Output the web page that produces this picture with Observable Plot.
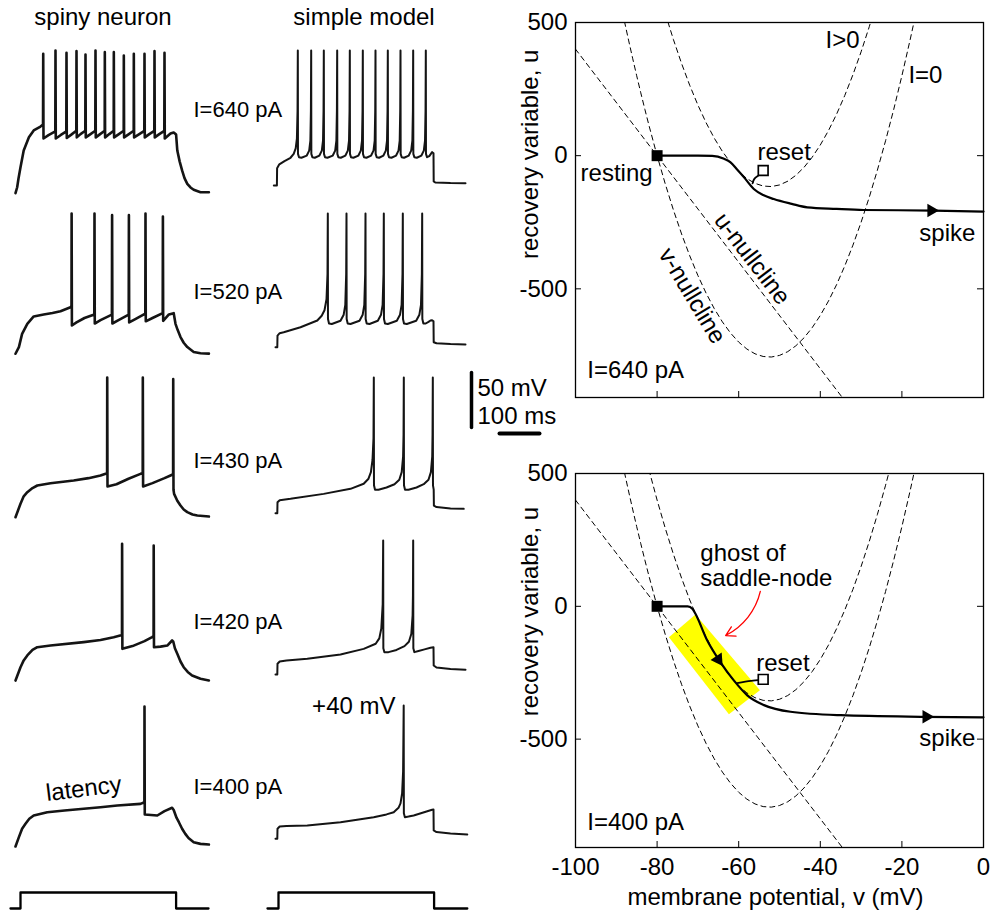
<!DOCTYPE html>
<html><head><meta charset="utf-8">
<script src="https://cdn.jsdelivr.net/npm/d3@7"></script>
<script src="https://cdn.jsdelivr.net/npm/@observablehq/plot@0.6"></script>
<style>
body{margin:0;background:#fff;}
#fig{position:relative;width:992px;height:911px;font-family:"Liberation Sans",Arial,Helvetica,sans-serif;overflow:hidden;background:#fff;}
.ttl{position:absolute;font-size:24px;line-height:26px;color:#000;white-space:nowrap;transform:translateX(-50%);}
</style></head><body>
<div id="fig">
<div class="ttl" style="left:103px;top:4px">spiny neuron</div>
<div class="ttl" style="left:364px;top:4px">simple model</div>
</div>
<script>
// ---------------- DATA ----------------
// Spiny neuron recordings: [time ms, membrane potential mV]
const spiny640 = [[-12.5,-89.7],[-8.3,-84.3],[-5,-76.4],[0,-66.1],[8,-50.9],[21,-38.8],[33,-32.7],[50,-29.1],[56.3,-27.3],[56.8,37],[57.5,-40],
[70,-37],[87,-33.6],[87.5,40],[88.2,-40],[100,-37],[114.5,-33.6],[115,37.9],[115.7,-39.5],
[127,-36.5],[139.5,-33],[140,39.4],[140.7,-39],[150,-36],[162,-33],[162.5,36.4],[163.2,-39],
[175,-36],[187,-33],[187.5,40],[188.2,-39],[199,-36],[210.5,-33],[210.8,38.5],[211.5,-39],
[222,-36],[233,-33],[233.3,38.5],[234,-39],[246,-36],[258,-33],[258.3,35.5],[259,-39],
[271,-36],[283,-33],[283.3,37],[284,-39],[297,-36],[309.5,-33],[310,37],[310.7,-39],
[322,-36],[334.5,-33],[335,39.4],[335.7,-39],[347,-36],[359.5,-33],[360,37.9],[360.7,-40],
[375,-35.5],[383,-34.5],[389,-36.4],[392,-50.9],[398,-61],[404,-69],[410,-76],[417,-81.2],[425,-84.5],[433,-86.6],[450,-88.8],[471,-88.8]];
const spiny520 = [[-12.5,-87.5],[-4,-81.5],[4,-69.4],[17,-60.3],[33,-53.6],[58,-51.8],[80,-50.5],[100,-48.8],[125,-45.2],[127.5,-44],[127.8,40],[128.5,-61.8],
[140,-59],[160,-55],[184.5,-51.8],[185,40],[185.7,-60],[200,-57],[228.5,-52],[229,38.5],[229.7,-60],
[245,-57],[270.5,-52],[271,38.5],[271.7,-59],[287,-56],[312,-51],[312.5,40],[313.2,-58],
[330,-55],[355.5,-50.5],[356,37.3],[356.7,-57.6],[371,-51.8],[383,-50.6],[387.5,-60.3],[393,-66],[400,-72.3],[408,-77.5],[417,-81.4],[433,-85.9],[450,-87],[471,-87.4]];
const spiny430 = [[-12.5,-87],[0,-74.8],[8,-68],[17,-64.3],[30,-60.5],[42,-58.2],[75,-56.1],[133,-53.6],[170,-51.5],[200,-49.1],[216.5,-47],[216.8,40],[217.5,-59.1],
[240,-57],[270,-52],[300,-47.6],[305.5,-47],[305.8,40],[306.5,-59],[330,-56],[360,-51.5],[375,-49.1],[381.5,-48],[381.8,38.5],[382.5,-62],
[384,-65.8],[392,-72],[400,-76.4],[408,-80],[417,-82.4],[430,-84.5],[442,-85.5],[471,-86.4]];
const spiny420 = [[-12.5,-87.3],[0,-75.2],[8,-69],[17,-64.5],[30,-59.5],[42,-57],[75,-55.5],[158,-52.4],[200,-50.5],[233,-47.9],[253.7,-46],[254,37],[254.7,-58.5],
[280,-56],[310,-51.5],[329,-47.9],[332.7,-47],[333,35.5],[333.7,-57],[350,-56.5],[367,-55.5],[379,-50.9],[382,-52],[386,-58],[392,-63],[400,-70],[408,-75.2],[418,-79.5],[429,-82.7],[450,-85.7],[471,-87.3]];
const spiny400 = [[-12.5,-88.2],[-4,-79.7],[4,-72],[12.5,-67.5],[22,-63],[33,-60],[67,-57],[110,-55.5],[158,-53.9],[200,-52.5],[242,-50.9],[300,-49.4],[309.7,-48],[310,39],[310.7,-59.1],
[342,-60],[360,-56],[379,-53],[383,-55],[390,-62],[396,-66.1],[404,-72],[412,-76.7],[420,-80.5],[433,-84.3],[450,-85.8],[471,-86.4]];

// Simple model traces: [time ms, v mV]
const model640 = [[-11.7,-82.7],[-4,-82.7],[-3.5,-67],[2,-63.5],[15,-60.5],[30,-57.5],[38,-54],[43,-49],[46,-40],[47.6,-15],[48.3,40],
[48.7,-54],[51.3,-57],[57.3,-57.5],[70.7,-55.5],[76.7,-51],[79.7,-42],[81,-15],[81.7,40],
[82.1,-54],[84.7,-57],[90.7,-57.5],[102.3,-55.5],[108.3,-51],[111.3,-42],[112.6,-15],[113.3,40],
[113.7,-54],[116.3,-57],[122.3,-57.5],[135.7,-55.5],[141.7,-51],[144.7,-42],[146,-15],[146.7,40],
[147.1,-54],[149.7,-57],[155.7,-57.5],[167.3,-55.5],[173.3,-51],[176.3,-42],[177.6,-15],[178.3,40],
[178.7,-54],[181.3,-57],[187.3,-57.5],[199.8,-55.5],[205.8,-51],[208.8,-42],[210.1,-15],[210.8,40],
[211.2,-54],[213.8,-57],[219.8,-57.5],[231.5,-55.5],[237.5,-51],[240.5,-42],[241.8,-15],[242.5,40],
[242.9,-54],[245.5,-57],[251.5,-57.5],[262.3,-55.5],[268.3,-51],[271.3,-42],[272.6,-15],[273.3,40],
[273.7,-54],[276.3,-57],[282.3,-57.5],[294,-55.5],[300,-51],[303,-42],[304.3,-15],[305,40],
[305.4,-54],[308,-57],[314,-57.5],[325.7,-55.5],[331.7,-51],[334.7,-42],[336,-15],[336.7,40],
[337.1,-54],[339.7,-57],[345.7,-57.5],[357.3,-55.5],[363.3,-51],[366.3,-42],[367.6,-15],[368.3,40],
[368.7,-54],[371.3,-57],[377,-56],[384,-52.4],[387.5,-53.5],[388,-79],[392,-80],[430,-80.5],[467.5,-80.6]];
const model520 = [[-7.5,-81.5],[-3,-81.5],[-2.5,-71],[3,-68.8],[13,-68],[55,-63.4],[97,-57.3],[108,-53],[115,-48],[120,-38],[122.5,-15],[123.3,40],
[123.7,-56],[126.3,-60],[133.3,-60.5],[155,-57.5],[163,-52],[167,-43],[169.2,-15],[170,40],
[170.4,-56],[173,-60],[180,-60.5],[202.5,-57.5],[210.5,-52],[214.5,-43],[216.7,-15],[217.5,40],
[217.9,-56],[220.5,-60],[227.5,-60.5],[248.3,-57.5],[256.3,-52],[260.3,-43],[262.5,-15],[263.3,40],
[263.7,-56],[266.3,-60],[273.3,-60.5],[295.8,-57.5],[303.8,-52],[307.8,-43],[310,-15],[310.8,40],
[311.2,-56],[313.8,-60],[320.8,-60.5],[344.2,-57.5],[352.2,-52],[356.2,-43],[358.4,-15],[359.2,40],
[359.6,-56],[362.2,-60],[368,-60],[375,-58.5],[380,-57.3],[384,-57],[387.5,-58],[388,-77],[395,-78],[430,-78.7],[467.5,-79]];
const model430 = [[-7.5,-83.4],[-3,-83.4],[-2.5,-73.4],[3,-71.5],[30,-70.3],[113,-65.8],[180,-61.2],[213,-56.6],[225,-52],[231,-46],[235,-35],[237.5,-15],[238.3,40],
[238.7,-58],[241.3,-62],[250,-62],[270,-60],[290,-57],[302,-53],[308,-46],[311.5,-32],[312.6,-12],[313.3,40],
[313.7,-58],[316.3,-62],[325,-62],[345,-60],[363,-57],[375,-53],[381,-46],[384.3,-32],[385.1,-12],[385.8,40],
[386.2,-58],[388,-62],[388.5,-76.5],[395,-77.8],[430,-79],[463,-79.4]];
const model420 = [[-7.5,-81.8],[-3,-81.8],[-2.5,-72.1],[3,-70],[20,-69],[72,-67.5],[155,-63.6],[213,-58.5],[243,-53.9],[252,-49],[257,-40],[260.5,-18],[261.7,40],
[262.1,-58],[264.7,-61.5],[275,-61.5],[295,-59.5],[315,-56],[326,-52],[332,-45],[335.3,-28],[336.1,-10],[336.7,40],
[337.1,-58],[339.7,-61.5],[350,-60.5],[365,-59],[380,-57.5],[387.5,-57],[388,-73.6],[395,-75.5],[430,-76.8],[467.5,-77.5]];
const model400 = [[-7.5,-81.2],[-3,-81.2],[-2.5,-72.1],[3,-70],[20,-69.5],[72,-69.1],[155,-66.1],[238,-61.5],[270,-59],[288,-57],[300,-53],[305,-49],[309,-40],[311.5,-20],[313,40],
[313.4,-58],[316,-61.5],[325,-61],[338,-60],[360,-57.5],[384,-54.8],[387.5,-54.5],[388,-73.6],[395,-75],[430,-76.4],[472,-77.3]];

const spinyTraces = [spiny640, spiny520, spiny430, spiny420, spiny400];
const modelTraces = [model640, model520, model430, model420, model400];
const currentLabels = ["I=640 pA", "I=520 pA", "I=430 pA", "I=420 pA", "I=400 pA"];
const currentLabelV = [-14.5, -31.5, -35.5, -34.3, -34.3];

// Step current pulse
const stimSpinyT = [-25, 0, 0, 389, 389, 470];
const stimModelT = [-27.5, 0, 0, 389, 389, 472];
const stimLevel = [0, 0, 1, 1, 0, 0];

// Phase plane: nullclines (v mV, u)
const nullV0 = [-88,-87,-86,-85,-84,-83,-82,-80,-78,-76,-74,-72,-70,-68,-66,-64,-62,-60,-58,-56,-54,-52,-50,-48,-46,-44,-42,-40,-38,-36,-34,-32,-30,-28,-26,-24,-22,-20,-18,-17];
const nullU0 = [504,434,366,300,236,174,114,0,-106,-204,-294,-376,-450,-516,-574,-624,-666,-700,-726,-744,-754,-756,-750,-736,-714,-684,-646,-600,-546,-484,-414,-336,-250,-156,-54,56,174,300,434,504];
const nullV640 = [-78,-76,-74,-72,-70,-68,-66,-64,-62,-60,-58,-56,-54,-52,-50,-48,-46,-44,-42,-40,-38,-36,-34,-32,-30,-28,-27];
const nullU640 = [534,436,346,264,190,124,66,16,-26,-60,-86,-104,-114,-116,-110,-96,-74,-44,-6,40,94,156,226,304,390,484,536];
const nullV400 = [-82,-80,-78,-76,-74,-72,-70,-68,-66,-64,-62,-60,-58,-56,-54,-52,-50,-48,-46,-44,-42,-40,-38,-36,-34,-32,-30,-28,-26,-24,-23];
const nullU400 = [514,400,294,196,106,24,-50,-116,-174,-224,-266,-300,-326,-344,-354,-356,-350,-336,-314,-284,-246,-200,-146,-84,-14,64,150,244,346,456,514];
const uNullV = [-100, -34.5];
const uNullU = [400, -910];

// Trajectories
const traj640 = [[-80,0],[-70,0],[-66.5,-1],[-63.6,-12],[-62,-25],[-60.5,-50],[-58.7,-81],[-56.3,-125],[-54,-148],[-51.4,-163],[-47,-181],[-43.2,-194],[-36,-200],[-29.4,-204],[-12.2,-206],[0,-210]];
const link640 = [[-54.3,-66],[-55.1,-74],[-56.2,-88],[-56.6,-104]];
const traj400 = [[-80,0],[-72.5,0],[-71.3,-10],[-70.6,-28],[-67.7,-129],[-64.5,-210],[-61.2,-279],[-57.9,-335],[-53.8,-372],[-47.3,-397],[-35,-410],[-14.7,-416],[0,-418]];
const link400 = [[-54.6,-277],[-57,-281],[-60.4,-289]];
const ghostPatch = [[-77.1,-116],[-70.6,-31],[-54.8,-316],[-62.4,-406],[-77.1,-116]];
const restPoint = [-80, 0];
const reset640 = [-54, -56];
const reset400 = [-54, -275];
const arrows640 = [[-12.8, -206, 90]];
const arrows400 = [[-65, -200, 146], [-14, -416, 90]];

const vTicks = [-100, -80, -60, -40, -20, 0];
const uTicks = [500, 0, -500];

const topLabels = ["I>0", "I=0", "reset", "resting", "spike", "u-nullcline", "v-nullcline", "I=640 pA"];
const topLabelV = [-38.7, -18.4, -55.4, -81.1, -2, -56.7, -71.4, -97.1];
const topLabelU = [432, 300, 11, -66, -293, -387, -526, -806];
const topLabelAnchor = ["start", "start", "start", "end", "end", "middle", "middle", "start"];
const topLabelRot = [0, 0, 0, 0, 0, 52.6, 59, 0];

const botLabels = ["ghost of", "saddle-node", "reset", "spike", "I=400 pA"];
const botLabelV = [-69.4, -69.4, -55.7, -2, -97.1];
const botLabelU = [198, 107, -214, -496, -815];
const botLabelAnchor = ["start", "start", "start", "end", "start"];
const botLabelRot = [0, 0, 0, 0, 0];

// ---------------- DRAWING ----------------
const FONT = '"Liberation Sans", Arial, Helvetica, sans-serif';
const fig = document.getElementById("fig");
const STYLE = {background: "transparent", overflow: "visible", fontFamily: FONT, fontSize: "24px", color: "#000"};
function place(el, left, top) {
  el.style.position = "absolute";
  el.style.left = left + "px";
  el.style.top = top + "px";
  fig.appendChild(el);
}
const pt = {x: d => d[0], y: d => d[1]};
const zip = (a, b) => a.map((v, i) => [v, b[i]]);

const rowTop = [40, 203, 367, 530, 695];
const traceYDomain = [-105.45, 49.09];

function tracePanel(data, row, spiny, extra = []) {
  const p = Plot.plot({
    width: spiny ? 280 : 210, height: 170,
    marginTop: 0, marginBottom: 0, marginLeft: 0, marginRight: 0,
    x: {domain: spiny ? [-25, 675] : [-32.5, 492.5], axis: null},
    y: {domain: traceYDomain, axis: null},
    style: STYLE,
    marks: [
      Plot.line(data, {...pt, stroke: "#141414", strokeWidth: spiny ? 2.6 : 2, strokeLinejoin: "round", strokeLinecap: "round"}),
      ...extra
    ]
  });
  place(p, spiny ? 10 : 265, rowTop[row]);
}

spinyTraces.forEach((tr, i) => {
  const extra = [Plot.text([currentLabels[i]], {x: 432.5, y: currentLabelV[i], text: d => d, textAnchor: "start", fontSize: 22})];
  if (i === 4) extra.push(Plot.text(["latency"], {x: 158, y: -35.7, text: d => d, rotate: -7, fontSize: 24}));
  tracePanel(tr, i, true, extra);
});
modelTraces.forEach((tr, i) => {
  const extra = [];
  if (i === 4) extra.push(Plot.text(["+40 mV"], {x: 292.5, y: 39, text: d => d, textAnchor: "end", fontSize: 24}));
  tracePanel(tr, i, false, extra);
});

// stimulus pulses
function stimPanel(ts, left, width, domain) {
  const p = Plot.plot({
    width, height: 26, marginTop: 0, marginBottom: 0, marginLeft: 0, marginRight: 0,
    x: {domain, axis: null}, y: {domain: [-0.1875, 1.4375], axis: null},
    style: STYLE,
    marks: [Plot.line(zip(ts, stimLevel), {...pt, stroke: "#000", strokeWidth: 2.3})]
  });
  place(p, left, 885);
}
stimPanel(stimSpinyT, 10, 200, [-25, 475]);
stimPanel(stimModelT, 265, 210, [-32.5, 492.5]);

// scale bars
const barMV = 50, barMS = 100;
const sb = Plot.plot({
  width: 140, height: 90, marginTop: 0, marginBottom: 0, marginLeft: 0, marginRight: 0,
  x: {domain: [-77.5, 272.5], axis: null}, y: {domain: [-20.9, 60.9], axis: null},
  style: STYLE,
  marks: [
    Plot.line([[0, 0], [0, barMV]], {...pt, stroke: "#000", strokeWidth: 3.5}),
    Plot.line([[70, -5.5], [70 + barMS, -5.5]], {...pt, stroke: "#000", strokeWidth: 4}),
    Plot.text([barMV + " mV"], {x: 15, y: 35.5, text: d => d, textAnchor: "start", fontSize: 24}),
    Plot.text([barMS + " ms"], {x: 15, y: 10, text: d => d, textAnchor: "start", fontSize: 24})
  ]
});
place(sb, 440, 360);

// phase planes
function labelMarks(labels, lv, lu, la, lr) {
  return ["start", "middle", "end"].map(anchor => {
    const idx = labels.map((d, i) => i).filter(i => la[i] === anchor);
    return Plot.text(idx, {x: i => lv[i], y: i => lu[i], text: i => labels[i], rotate: i => lr[i], textAnchor: anchor, fontSize: 24});
  });
}

function phasePlane(o) {
  const fw = 502 - 85 - 9;
  const fh = o.height - o.mt - o.mb;
  const dash = {stroke: "#000", strokeWidth: 1, strokeDasharray: "5,4", clip: true};
  const marks = [];
  if (o.patch) marks.push(Plot.line(o.patch, {...pt, fill: "#ffff00", stroke: "none"}));
  marks.push(
    Plot.line(zip(nullV0, nullU0), dash),
    Plot.line(zip(o.nv, o.nu), dash),
    Plot.line(zip(uNullV, uNullU), dash),
    Plot.line(o.traj, {...pt, stroke: "#000", strokeWidth: 2.2, curve: "monotone-x"}),
    Plot.line(o.link, {...pt, stroke: "#000", strokeWidth: 1.8, curve: "catmull-rom"}),
    Plot.dot(o.arrows, {x: d => d[0], y: d => d[1], rotate: d => d[2], symbol: "triangle", r: 5, fill: "#000", stroke: "none"}),
    Plot.dot([restPoint], {...pt, symbol: "square", r: 6.2, fill: "#000", stroke: "none"}),
    Plot.dot([o.reset], {...pt, symbol: "square", r: 5.5, fill: "#fff", stroke: "#000", strokeWidth: 1.7}),
    Plot.frame({stroke: "#000", strokeWidth: 1.3}),
    Plot.tickX(vTicks.slice(1, 5), {x: d => d, insetTop: fh - 6, stroke: "#000", strokeWidth: 1}),
    Plot.tickY(uTicks.slice(1), {y: d => d, insetRight: fw - 6, stroke: "#000", strokeWidth: 1}),
    Plot.tickY(uTicks.slice(1), {y: d => d, insetLeft: fw - 6, stroke: "#000", strokeWidth: 1}),
    Plot.axisY({ticks: uTicks, tickSize: 0, tickPadding: 8, tickFormat: d => String(d), fontSize: 24, label: null}),
    Plot.text(["recovery variable, u"], {y: o.ylabU, frameAnchor: "left", dx: -45, rotate: -90, text: d => d, textAnchor: "middle", lineAnchor: "middle", fontSize: 24}),
    ...labelMarks(o.labels, o.lv, o.lu, o.la, o.lr)
  );
  if (o.extra) marks.push(...o.extra);
  if (o.showX) {
    marks.push(
      Plot.axisX({ticks: vTicks, tickSize: 0, tickPadding: 10, tickFormat: d => String(d), fontSize: 24, label: null}),
      Plot.text(["membrane potential, v (mV)"], {frameAnchor: "bottom", dy: 50, dx: -4, text: d => d, textAnchor: "middle", lineAnchor: "middle", fontSize: 24})
    );
  }
  const p = Plot.plot({
    width: 502, height: o.height,
    marginLeft: 85, marginRight: 9, marginTop: o.mt, marginBottom: o.mb,
    x: {domain: [-100, 0], axis: o.showX ? undefined : null},
    y: {domain: [-908, 500]},
    style: STYLE,
    marks
  });
  place(p, 490, o.top);
}

phasePlane({top: 0, height: 440, mt: 22, mb: 43, nv: nullV640, nu: nullU640, traj: traj640, link: link640,
  reset: reset640, arrows: arrows640, labels: topLabels, lv: topLabelV, lu: topLabelU, la: topLabelAnchor, lr: topLabelRot,
  ylabU: 5, showX: false});

phasePlane({top: 440, height: 471, mt: 33, mb: 64, nv: nullV400, nu: nullU400, traj: traj400, link: link400,
  reset: reset400, arrows: arrows400, labels: botLabels, lv: botLabelV, lu: botLabelU, la: botLabelAnchor, lr: botLabelRot,
  patch: ghostPatch, ylabU: -20, showX: true,
  extra: [Plot.arrow([[-54.7, 56, -63.2, -110]], {x1: d => d[0], y1: d => d[1], x2: d => d[2], y2: d => d[3], bend: 25, stroke: "#ff0000", strokeWidth: 1.3, headLength: 12})]});
</script>
</body></html>
